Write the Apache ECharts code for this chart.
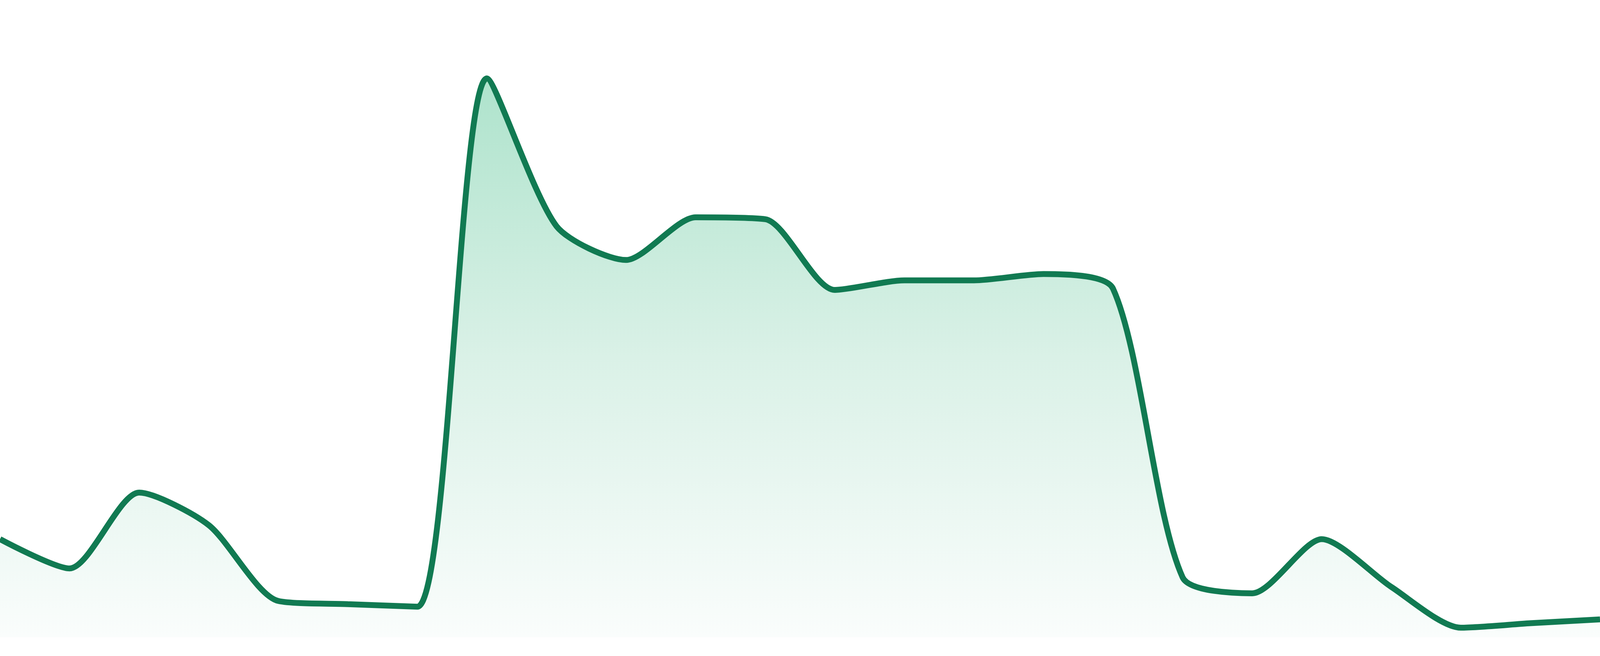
<!DOCTYPE html>
<html>
<head>
<meta charset="utf-8">
<title>area</title>
<script src="https://cdn.jsdelivr.net/npm/echarts@6/dist/echarts.min.js"></script>
<style>
    html, body { margin: 0; padding: 0; width: 100%; height: 100%; overflow: hidden; background: #ffffff; }
    #grafica { width: 100vw; height: 100vh; }
</style>
</head>
<body>
<div id="grafica"></div>
<script>
    // horas del dia
    var horas = ['00', '01', '02', '03', '04', '05', '06', '07', '08', '09', '10', '11',
        '12', '13', '14', '15', '16', '17', '18', '19', '20', '21', '22', '23'];

    // valores
    var valores = [15.4, 10.8, 22.7, 17.6, 5.7, 5.2, 4.8, 87.7, 64.5, 59.2, 65.9, 65.6,
        54.5, 56.0, 56.0, 57.0, 54.7, 9.4, 6.9, 15.4, 7.9, 1.5, 2.2, 2.8];

    var colorLinea = '#117a52';

    var elemento = document.getElementById('grafica');
    var chart = echarts.init(elemento);
    var alto = chart.getHeight(); // todo se escala con el alto (1680 en la original)

    chart.setOption({
        animation: false,
        grid: {
            left: 0,
            right: 0,
            top: 0,
            bottom: Math.round(alto * 48 / 1680)
        },
        xAxis: {
            type: 'category',
            data: horas,
            boundaryGap: false,
            show: false
        },
        yAxis: {
            type: 'value',
            min: 0,
            max: 100,
            show: false
        },
        series: [{
            type: 'line',
            data: valores,
            smooth: 0.25,
            showSymbol: false,
            lineStyle: {
                color: colorLinea,
                width: alto * 15 / 1680
            },
            areaStyle: {
                opacity: 1, // por defecto es 0.7
                color: new echarts.graphic.LinearGradient(0, 0, 0, 1, [
                    { offset: 0, color: '#aee3cc' },
                    { offset: 0.5, color: '#daf1e7' },
                    { offset: 1, color: '#fafdfc' }
                ])
            }
        }]
    });
</script>
</body>
</html>
